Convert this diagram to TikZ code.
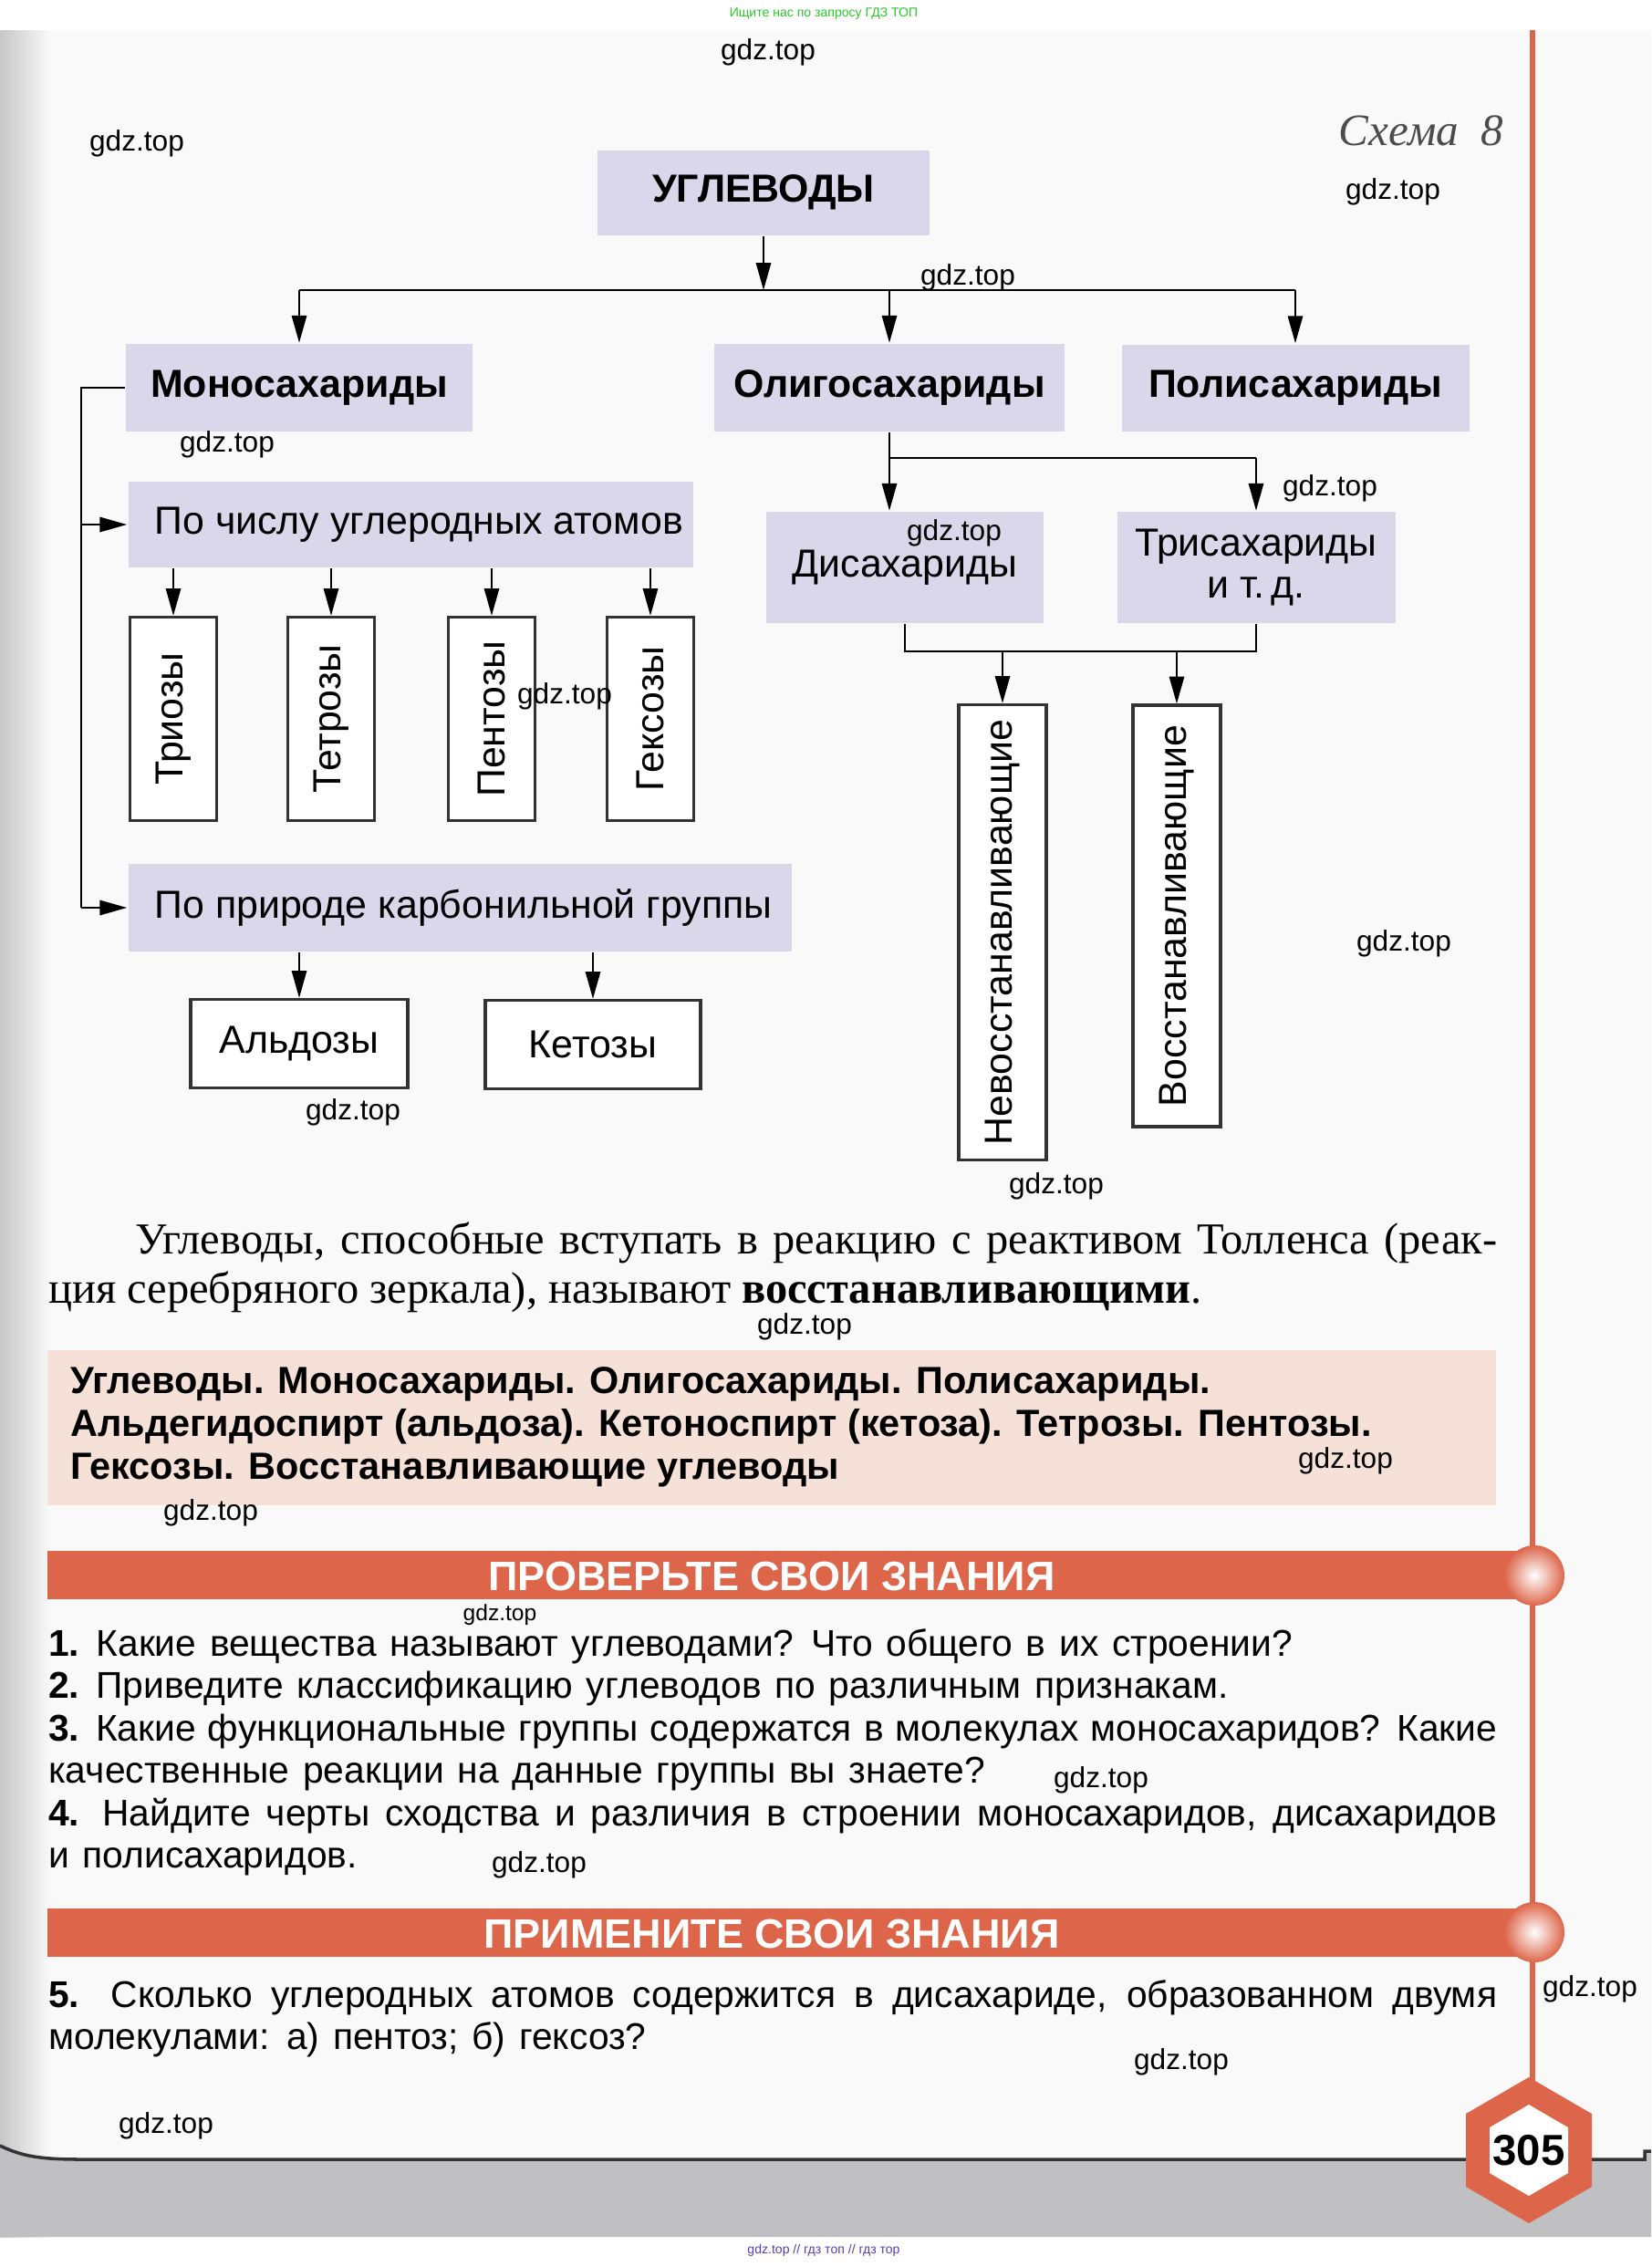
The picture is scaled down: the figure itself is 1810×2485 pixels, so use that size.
\documentclass[tikz,border=0pt]{standalone}
\usepackage{fontspec}
\usepackage{graphicx}
\setmainfont{Liberation Sans}
\newfontfamily\serifrm{Liberation Serif}
\usetikzlibrary{arrows.meta}
\definecolor{lilac}{RGB}{219,215,234}
\definecolor{blush}{RGB}{246,225,217}
\definecolor{brick}{RGB}{221,102,74}
\definecolor{paper}{RGB}{249,249,250}
\definecolor{band}{RGB}{192,192,195}
\definecolor{adgreen}{RGB}{40,200,40}
\definecolor{adpurple}{RGB}{90,60,170}
\newcommand{\boxfont}{\fontsize{12.2pt}{13pt}\selectfont}
\newcommand{\qfont}{\fontsize{11.6pt}{13pt}\selectfont\spaceskip=0.36em plus 0.2em minus 0.12em\relax}
\newcommand{\spreadline}[2]{\makebox[#1][s]{#2}}

\begin{document}
\begin{tikzpicture}[x=0.1mm,y=-0.1mm,line width=0.7pt,
  arr/.style={-{Triangle[length=8.5pt,width=4.6pt]}},
  lilacbox/.style={fill=lilac, inner sep=0pt, font=\boxfont},
  plainbox/.style={draw=black!80, line width=0.9pt, fill=white, inner sep=0pt, font=\boxfont},
  qline/.style={anchor=base west, inner sep=0pt, font=\qfont},
  termline/.style={anchor=base west, inner sep=0pt, font=\bfseries\fontsize{11.8pt}{13pt}\selectfont},
  wmark/.style={inner sep=0pt, font=\fontsize{9pt}{10pt}\selectfont},
  banner/.style={anchor=base, inner sep=0pt, text=white, font=\bfseries\fontsize{12.8pt}{14pt}\selectfont}]

\useasboundingbox (0,0) rectangle (1810,2485);

% page and binding shadow
\fill[paper] (0,33) rectangle (1810,2452);
\shade[left color=black!22, right color=paper] (0,33) rectangle (55,2452);

% bottom band
\fill[band] (0,2352) .. controls (25,2364) and (45,2367) .. (90,2367) -- (1803,2367) -- (1803,2358) -- (1810,2358) -- (1810,2452) -- (0,2452) -- cycle;
\draw[line width=1pt, black!80] (0,2352) .. controls (25,2364) and (45,2367) .. (90,2367) -- (1803,2367) -- (1803,2358) -- (1810,2358);

% red rule with banners
\draw[brick, line width=1.7pt] (1680,33) -- (1680,2290);
\fill[brick] (52,1700) rectangle (1680,1753);
\shade[inner color=white, outer color=brick] (1682,1727) circle (3.3mm);
\fill[brick] (52,2092) rectangle (1680,2145);
\shade[inner color=white, outer color=brick] (1682,2118) circle (3.3mm);
\node[banner] (check) at (846,1743) {ПРОВЕРЬТЕ СВОИ ЗНАНИЯ};
\node[banner] (apply) at (846,2135) {ПРИМЕНИТЕ СВОИ ЗНАНИЯ};

% page number
\fill[brick] (1676,2277) -- (1745,2317) -- (1745,2397) -- (1676,2437) -- (1607,2397) -- (1607,2317) -- cycle;
\fill[white] (1676,2307) -- (1719,2332) -- (1719,2382) -- (1676,2407) -- (1633,2382) -- (1633,2332) -- cycle;
\node[font=\bfseries\fontsize{13.5pt}{14pt}\selectfont] (pageno) at (1676,2357) {305};

\node[font=\fontsize{4pt}{5pt}\selectfont, text=adgreen] (topad) at (903,15) {Ищите нас по запросу ГДЗ ТОП};
\node[font=\fontsize{4pt}{5pt}\selectfont, text=adpurple] (bottomad) at (903,2467) {gdz.top // гдз топ // гдз тор};

\node[font=\serifrm\itshape\fontsize{14pt}{16pt}\selectfont, text=black!70] (schema) at (1558,143) {Схема\ \ 8};

% scheme
\node[lilacbox, minimum width=36.4mm, minimum height=9.3mm, font=\boxfont\bfseries] (ug) at (837,211) {УГЛЕВОДЫ};
\node[lilacbox, minimum width=38mm, minimum height=9.6mm, font=\boxfont\bfseries] (mono) at (328,425) {Моносахариды};
\node[lilacbox, minimum width=38.4mm, minimum height=9.6mm, font=\boxfont\bfseries] (oligo) at (975,425) {Олигосахариды};
\node[lilacbox, minimum width=38.1mm, minimum height=9.5mm, font=\boxfont\bfseries] (poly) at (1420,425) {Полисахариды};
\node[lilacbox, minimum height=9.4mm, inner xsep=2.9mm] (atoms) at (450,575) {\makebox[56.1mm][l]{По числу углеродных атомов}};
\node[lilacbox, minimum height=9.6mm, inner xsep=2.9mm] (carbonyl) at (504,995) {\makebox[66.9mm][l]{По природе карбонильной группы}};
\node[lilacbox, minimum width=30.4mm, minimum height=12.2mm] (di) at (992,622) {Дисахариды};
\node[lilacbox, minimum width=30.5mm, minimum height=12.2mm, align=center] (tri) at (1377,622) {Трисахариды\\и т.\,д.};

\foreach \name/\x/\txt in {trioses/190/Триозы, tetroses/363/Тетрозы, pentoses/539/Пентозы, hexoses/713/Гексозы}
  \node[plainbox, minimum width=9.5mm, minimum height=22.3mm] (\name) at (\x,788) {\rotatebox{90}{\txt}};
\node[plainbox, minimum width=23.8mm, minimum height=9.7mm] (aldoses) at (328,1144) {Альдозы};
\node[plainbox, minimum width=23.6mm, minimum height=9.7mm] (ketoses) at (650,1145) {Кетозы};
\node[plainbox, minimum width=9.6mm, minimum height=49.9mm] (nonred) at (1099,1022) {\rotatebox{90}{Невосстанавливающие}};
\node[plainbox, minimum width=9.6mm, minimum height=46.2mm] (red) at (1290,1004) {\rotatebox{90}{Восстанавливающие}};

\coordinate (bar) at (0,318);
\draw[arr] (ug.south) -- (ug.south |- bar);
\draw (mono.north |- bar) -- (poly.north |- bar);
\foreach \n in {mono,oligo,poly} \draw[arr] (\n.north |- bar) -- (\n.north);

\coordinate (spine) at (89,0);
\draw (mono.west) -- (mono.west -| spine) -- (carbonyl.west -| spine);
\draw[arr] (atoms.west -| spine) -- (atoms.west);
\draw[arr] (carbonyl.west -| spine) -- (carbonyl.west);
\foreach \n in {trioses,tetroses,pentoses,hexoses} \draw[arr] (atoms.south -| \n.north) -- (\n.north);
\foreach \n in {aldoses,ketoses} \draw[arr] (carbonyl.south -| \n.north) -- (\n.north);

\coordinate (fork) at (0,502);
\draw (oligo.south) -- (oligo.south |- fork) -- (tri.north |- fork);
\draw[arr] (oligo.south |- fork) -- (oligo.south |- di.north);
\draw[arr] (tri.north |- fork) -- (tri.north);
\coordinate (merge) at (0,714);
\draw (di.south) -- (di.south |- merge) -- (tri.south |- merge) -- (tri.south);
\foreach \n in {nonred,red} \draw[arr] (\n.north |- merge) -- (\n.north);

% paragraph
\node[anchor=base west, inner sep=0pt, font=\serifrm\fontsize{13.8pt}{15pt}\selectfont] (par1) at (147,1374)
  {\spreadline{149.3mm}{Углеводы, способные вступать в реакцию с реактивом Толленса (реак-}};
\node[anchor=base west, inner sep=0pt, font=\serifrm\fontsize{13.8pt}{15pt}\selectfont] (par2) at (52,1428)
  {ция серебряного зеркала), называют \textbf{восстанавливающими}.};

% key terms
\fill[blush] (52,1480) rectangle (1640,1650);
\node[termline] (terms1) at (76,1527) {Углеводы. Моносахариды. Олигосахариды. Полисахариды.};
\node[termline] (terms2) at (76,1574) {Альдегидоспирт (альдоза). Кетоноспирт (кетоза). Тетрозы. Пентозы.};
\node[termline] (terms3) at (76,1621) {Гексозы. Восстанавливающие углеводы};

% questions
\node[qline] (q1) at (52,1815) {\textbf{1.} Какие вещества называют углеводами? Что общего в их строении?};
\node[qline] (q2) at (52,1861) {\textbf{2.} Приведите классификацию углеводов по различным признакам.};
\node[qline] (q3a) at (52,1908) {\spreadline{158.8mm}{\textbf{3.} Какие функциональные группы содержатся в молекулах моносахаридов? Какие}};
\node[qline] (q3b) at (52,1954) {качественные реакции на данные группы вы знаете?};
\node[qline] (q4a) at (52,2001) {\spreadline{158.8mm}{\textbf{4.} Найдите черты сходства и различия в строении моносахаридов, дисахаридов}};
\node[qline] (q4b) at (52,2047) {и полисахаридов.};
\node[qline] (q5a) at (52,2200) {\spreadline{158.8mm}{\textbf{5.} Сколько углеродных атомов содержится в дисахариде, образованном двумя}};
\node[qline] (q5b) at (52,2246) {молекулами: а) пентоз; б) гексоз?};

% watermarks
\foreach \p [count=\i] in {(842,57),(150,157),(1527,210),(1061,304),(249,487),(1458,535),(1046,584),(619,763),(1539,1034),(387,1219),(1158,1300),(882,1454),(1475,1601),(231,1658),(1207,1951),(591,2044),(1743,2180),(1295,2260),(182,2330)}
  \node[wmark] (wm\i) at \p {gdz.top};
\node[wmark, font=\fontsize{7pt}{8pt}\selectfont] (wmsmall) at (548,1770) {gdz.top};
\end{tikzpicture}
\end{document}
